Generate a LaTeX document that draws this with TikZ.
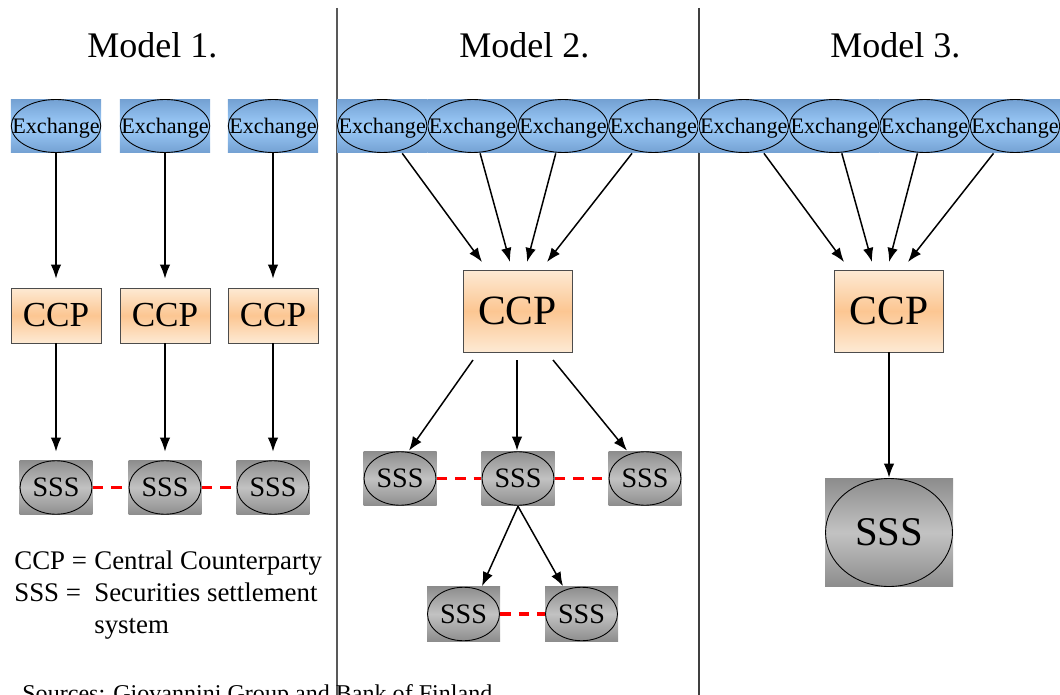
\documentclass[tikz,border=0pt]{standalone}
\usepackage{amsmath}
\usepackage{fontspec}
\setmainfont{Liberation Serif}
\usepackage{tikz}
\usetikzlibrary{arrows.meta}

\definecolor{exdark}{RGB}{115,160,210}
\definecolor{exlight}{RGB}{157,204,250}
\definecolor{ccplight}{RGB}{253,234,212}
\definecolor{ccpmid}{RGB}{252,198,146}
\definecolor{sssdark}{RGB}{140,140,140}
\definecolor{ssslight}{RGB}{194,194,194}

\tikzset{
  exch/.style={rectangle, inner sep=0pt, minimum width=1.808cm, minimum height=1.08cm,
    top color=exdark, bottom color=exdark, middle color=exlight,
    font=\fontsize{12.6}{14}\selectfont, text depth=0pt,
    path picture={\draw[line width=0.5pt] (path picture bounding box.center) ellipse [x radius=0.895cm, y radius=0.53cm];}},
  ccp/.style={rectangle, draw=black!70, inner sep=0pt, minimum width=1.8cm, minimum height=1.1cm,
    top color=ccplight, bottom color=ccplight, middle color=ccpmid,
    font=\fontsize{20}{24}\selectfont},
  bigccp/.style={ccp, minimum width=2.18cm, minimum height=1.64cm, font=\fontsize{23.7}{28}\selectfont},
  sss/.style={rectangle, inner sep=0pt, minimum width=1.46cm, minimum height=1.1cm,
    top color=sssdark, bottom color=sssdark, middle color=ssslight,
    font=\fontsize{16}{19}\selectfont,
    path picture={\draw[line width=0.5pt] (path picture bounding box.center) ellipse [x radius=0.72cm, y radius=0.535cm];}},
  bigsss/.style={sss, minimum width=2.56cm, minimum height=2.18cm, font=\fontsize{23.2}{28}\selectfont,
    path picture={\draw[line width=0.5pt] (path picture bounding box.center) ellipse [x radius=1.27cm, y radius=1.08cm];}},
  arr/.style={-{Latex[length=8pt,width=6pt]}, line width=0.85pt},
  sslink/.style={red, line width=2.2pt, dash pattern=on 6pt off 4.5pt},
  title/.style={anchor=base west, inner sep=0pt, font=\fontsize{20.5}{24}\selectfont}
}

\begin{document}
\begin{tikzpicture}[x=0.02cm, y=-0.02cm]
  \useasboundingbox (0,0) rectangle (1060,695);
  % dividers
  \draw[black!65, line width=0.8pt] (337,8) -- (337,695);
  \draw[black!75, line width=0.8pt] (699,8) -- (699,695);

  \node[title] (t1) at (87,58) {Model 1.};
  \node[title] (t2) at (459,58) {Model 2.};
  \node[title] (t3) at (830,58) {Model 3.};

  % Model 1
  \node[exch] (xa1) at (56,126) {Exchange};
  \node[exch] (xa2) at (165,126) {Exchange};
  \node[exch] (xa3) at (273,126) {Exchange};
  \node[ccp] (ca1) at (56,315.5) {CCP};
  \node[ccp] (ca2) at (165,315.5) {CCP};
  \node[ccp] (ca3) at (273,315.5) {CCP};
  \node[sss] (sa1) at (56,487.5) {SSS};
  \node[sss] (sa2) at (165,487.5) {SSS};
  \node[sss] (sa3) at (273,487.5) {SSS};
  \draw[arr, shorten >=0.18cm] (xa1.south) -- (ca1.north);
  \draw[arr, shorten >=0.18cm] (xa2.south) -- (ca2.north);
  \draw[arr, shorten >=0.18cm] (xa3.south) -- (ca3.north);
  \draw[arr, shorten >=0.16cm] (ca1.south) -- (sa1.north);
  \draw[arr, shorten >=0.16cm] (ca2.south) -- (sa2.north);
  \draw[arr, shorten >=0.16cm] (ca3.south) -- (sa3.north);
  \draw[sslink] (sa1.east) -- (sa2.west);
  \draw[sslink] (sa2.east) -- (sa3.west);

  \node[anchor=base west, inner sep=0pt, font=\fontsize{15.3}{18.4}\selectfont] (legend) at (14,569)
    {\begin{tabular}[t]{@{}p{1.6cm}@{}l@{}}CCP = & Central Counterparty\\ SSS = & Securities settlement\\ & system\end{tabular}};

  % Model 2
  \node[exch] (xb1) at (382.2,126) {Exchange};
  \node[exch] (xb2) at (472.6,126) {Exchange};
  \node[exch] (xb3) at (563,126) {Exchange};
  \node[exch] (xb4) at (653.4,126) {Exchange};
  \node[bigccp] (cb) at (517.5,311) {CCP};
  \coordinate (tb1) at (482,262);
  \coordinate (tb2) at (510,262);
  \coordinate (tb3) at (527,262);
  \coordinate (tb4) at (547,262);
  \draw[arr] (xb1) -- (tb1);
  \draw[arr] (xb2) -- (tb2);
  \draw[arr] (xb3) -- (tb3);
  \draw[arr] (xb4) -- (tb4);
  \node[sss] (sb1) at (400,478.5) {SSS};
  \node[sss] (sb2) at (518,478.5) {SSS};
  \node[sss] (sb3) at (645,478.5) {SSS};
  \node[sss] (sb4) at (463.5,614) {SSS};
  \node[sss] (sb5) at (581.5,614) {SSS};
  \coordinate (ub1) at (473,360);
  \coordinate (ub2) at (517,360);
  \coordinate (ub3) at (553,360);
  \draw[arr] (ub1) -- ([xshift=0.18cm]sb1.north);
  \draw[arr] (ub2) -- ([xshift=-0.02cm]sb2.north);
  \draw[arr] (ub3) -- ([xshift=-0.36cm]sb3.north);
  \draw[arr] (sb2.south) -- ([xshift=0.37cm]sb4.north);
  \draw[arr] (sb2.south) -- ([xshift=-0.37cm]sb5.north);
  \draw[sslink] (sb1.east) -- (sb2.west);
  \draw[sslink] (sb2.east) -- (sb3.west);
  \draw[sslink] (sb4.east) -- (sb5.west);

  % Model 3
  \node[exch] (xc1) at (743.8,126) {Exchange};
  \node[exch] (xc2) at (834.2,126) {Exchange};
  \node[exch] (xc3) at (924.6,126) {Exchange};
  \node[exch] (xc4) at (1015,126) {Exchange};
  \node[bigccp] (cc) at (889,311) {CCP};
  \coordinate (tc1) at (844,262);
  \coordinate (tc2) at (872,262);
  \coordinate (tc3) at (889,262);
  \coordinate (tc4) at (908,262);
  \draw[arr] (xc1) -- (tc1);
  \draw[arr] (xc2) -- (tc2);
  \draw[arr] (xc3) -- (tc3);
  \draw[arr] (xc4) -- (tc4);
  \node[bigsss] (sc) at (889,532.5) {SSS};
  \draw[arr] (cc.south) -- (sc.north);

  \node[anchor=base west, inner sep=0pt, font=\fontsize{13.7}{16}\selectfont] (src) at (22,701)
    {Sources: Giovannini Group and Bank of Finland};
\end{tikzpicture}
\end{document}
